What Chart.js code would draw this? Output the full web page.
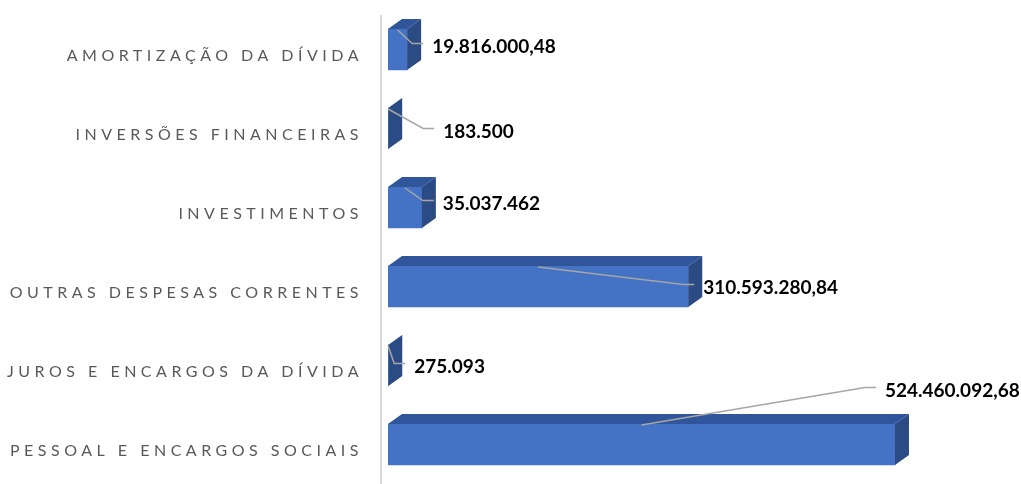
<!DOCTYPE html>
<html>
<head>
<meta charset="utf-8">
<script src="https://cdn.jsdelivr.net/npm/chart.js@4/dist/chart.umd.min.js"></script>
<style>
  body { margin: 0; background: #fff; }
  #wrap { width: 1021px; height: 484px; }
</style>
</head>
<body>
<div id="wrap"><canvas id="chart" width="1021" height="484"></canvas></div>
<script>
var categories = [
    'AMORTIZAÇÃO DA DÍVIDA',
    'INVERSÕES FINANCEIRAS',
    'INVESTIMENTOS',
    'OUTRAS DESPESAS CORRENTES',
    'JUROS E ENCARGOS DA DÍVIDA',
    'PESSOAL E ENCARGOS SOCIAIS'
];
var values = [19816000.48, 183500, 35037462, 310593280.84, 275093, 524460092.68];

// where each value label sits, relative to the bar end / bar centre
var labelOffsets = [[25, -4], [55, 2], [21, -5], [15, 0], [26, 0], [-10, -55]];

var depthX = 14, depthY = 10;

function formatBR(v) {
    var parts = (Math.round(v * 100) / 100).toFixed(2).split('.');
    var whole = parts[0].replace(/\B(?=(\d{3})+(?!\d))/g, '.');
    return parts[1] === '00' ? whole : whole + ',' + parts[1];
}

var bars3d = {
    id: 'bars3d',
    afterDatasetsDraw: function (chart) {
        var ctx = chart.ctx;
        var meta = chart.getDatasetMeta(0);
        ctx.save();
        meta.data.forEach(function (bar) {
            var L = bar.base, R = bar.x;
            var T = bar.y - bar.height / 2, B = bar.y + bar.height / 2;
            // top face
            ctx.fillStyle = '#30559a';
            ctx.beginPath();
            ctx.moveTo(L, T);
            ctx.lineTo(L + depthX, T - depthY);
            ctx.lineTo(R + depthX, T - depthY);
            ctx.lineTo(R, T);
            ctx.closePath();
            ctx.fill();
            // side face
            ctx.fillStyle = '#2b4b85';
            ctx.beginPath();
            ctx.moveTo(R, T);
            ctx.lineTo(R + depthX, T - depthY);
            ctx.lineTo(R + depthX, B - depthY);
            ctx.lineTo(R, B);
            ctx.closePath();
            ctx.fill();
        });

        // value labels with leader lines
        meta.data.forEach(function (bar, i) {
            var T = bar.y - bar.height / 2;
            var tx = bar.x + labelOffsets[i][0];
            var ty = bar.y + labelOffsets[i][1];
            ctx.strokeStyle = '#a6a6a6';
            ctx.lineWidth = 1.5;
            ctx.beginPath();
            ctx.moveTo((bar.base + bar.x) / 2, T + 1);
            ctx.lineTo(tx - 20, ty - 2);
            ctx.lineTo(tx - 9, ty - 2);
            ctx.stroke();
            ctx.fillStyle = '#000';
            ctx.font = 'bold 19px Lato';
            ctx.textAlign = 'left';
            ctx.textBaseline = 'middle';
            ctx.fillText(formatBR(values[i]), tx, ty + 1);
        });
        ctx.restore();
    },
    afterDraw: function (chart) {
        var ctx = chart.ctx;
        var area = chart.chartArea;
        var y = chart.scales.y;
        ctx.save();
        // axis line
        ctx.strokeStyle = '#d9d9d9';
        ctx.lineWidth = 2;
        ctx.beginPath();
        ctx.moveTo(area.left - 7, 15);
        ctx.lineTo(area.left - 7, chart.height);
        ctx.stroke();
        // category labels
        ctx.fillStyle = '#595959';
        ctx.font = '16px Lato';
        ctx.letterSpacing = '4.5px';
        ctx.textAlign = 'right';
        ctx.textBaseline = 'middle';
        categories.forEach(function (c, i) {
            ctx.fillText(c, area.left - 25, y.getPixelForValue(i) + 6);
        });
        ctx.restore();
    }
};

var config = {
    type: 'bar',
    data: {
        labels: categories,
        datasets: [{
            data: values,
            backgroundColor: '#4472c4',
            barThickness: 41
        }]
    },
    options: {
        indexAxis: 'y',
        responsive: false,
        animation: false,
        layout: { padding: { left: 388, right: 53, top: 10, bottom: 0 } },
        plugins: {
            legend: { display: false },
            tooltip: { enabled: false }
        },
        scales: {
            x: { display: false, min: 0, max: 600000000 },
            y: { display: false }
        }
    },
    plugins: [bars3d]
};

var ctx = document.getElementById('chart').getContext('2d');
window.myBar = new Chart(ctx, config);
</script>
</body>
</html>
